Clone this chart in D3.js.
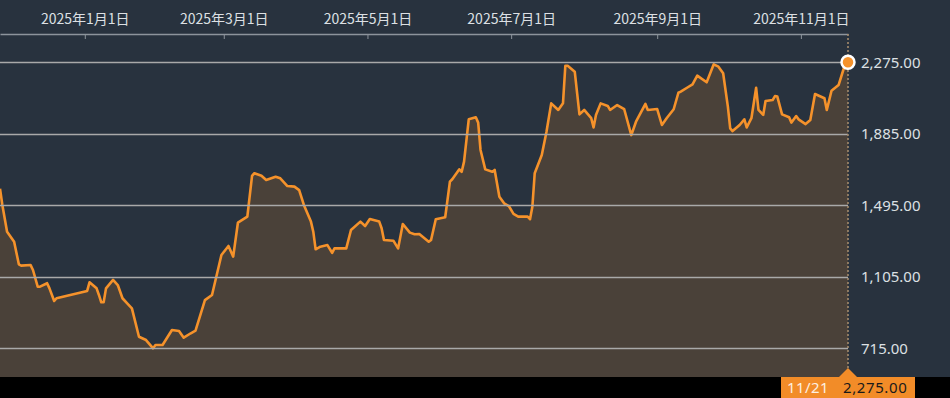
<!DOCTYPE html>
<html>
<head>
<meta charset="utf-8">
<script src="https://cdn.jsdelivr.net/npm/d3@7"></script>
<style>
  body { margin: 0; background: #28323e; overflow: hidden; }
  svg { display: block; }
  .eje text { font-family: "Noto Sans CJK JP", "Noto Sans", sans-serif; font-size: 14px; fill: #dde0e4; }
  .eje .domain, .eje .tick line { stroke: #8d949c; }
</style>
</head>
<body>
<svg class="grafico" width="950" height="398"></svg>
<script>
// precios diarios (lectura aproximada del gráfico)
const fechas = [
  "2024-11-26","2024-11-27","2024-11-29","2024-12-02","2024-12-04","2024-12-05","2024-12-09","2024-12-10",
  "2024-12-12","2024-12-13","2024-12-16","2024-12-17","2024-12-19","2024-12-20","2025-01-02","2025-01-03",
  "2025-01-06","2025-01-07","2025-01-08","2025-01-09","2025-01-10","2025-01-13","2025-01-15","2025-01-17",
  "2025-01-19","2025-01-21","2025-01-24","2025-01-27","2025-01-30","2025-01-31","2025-02-03","2025-02-07",
  "2025-02-10","2025-02-12","2025-02-15","2025-02-17","2025-02-21","2025-02-24","2025-02-28","2025-03-03",
  "2025-03-05","2025-03-07","2025-03-11","2025-03-13","2025-03-14","2025-03-17","2025-03-19","2025-03-23",
  "2025-03-25","2025-03-28","2025-03-31","2025-04-02","2025-04-04","2025-04-07","2025-04-08","2025-04-09",
  "2025-04-11","2025-04-14","2025-04-16","2025-04-17","2025-04-22","2025-04-24","2025-04-28","2025-04-30",
  "2025-05-02","2025-05-06","2025-05-07","2025-05-08","2025-05-12","2025-05-14","2025-05-16","2025-05-19",
  "2025-05-21","2025-05-23","2025-05-27","2025-05-28","2025-05-30","2025-06-03","2025-06-05","2025-06-06",
  "2025-06-09","2025-06-10","2025-06-11","2025-06-13","2025-06-16","2025-06-17","2025-06-18","2025-06-20",
  "2025-06-23","2025-06-24","2025-06-26","2025-06-28","2025-06-30","2025-07-02","2025-07-04","2025-07-08",
  "2025-07-09","2025-07-10","2025-07-11","2025-07-14","2025-07-16","2025-07-18","2025-07-21","2025-07-23",
  "2025-07-24","2025-07-25","2025-07-28","2025-07-30","2025-08-01","2025-08-04","2025-08-05","2025-08-06",
  "2025-08-08","2025-08-11","2025-08-12","2025-08-15","2025-08-18","2025-08-21","2025-08-23","2025-08-27",
  "2025-08-28","2025-09-01","2025-09-03","2025-09-05","2025-09-08","2025-09-10","2025-09-11","2025-09-14",
  "2025-09-16","2025-09-18","2025-09-22","2025-09-25","2025-09-27","2025-09-29","2025-10-01","2025-10-02",
  "2025-10-03","2025-10-06","2025-10-08","2025-10-09","2025-10-11","2025-10-13","2025-10-14","2025-10-16",
  "2025-10-17","2025-10-20","2025-10-21","2025-10-22","2025-10-24","2025-10-27","2025-10-28","2025-10-30",
  "2025-10-31","2025-11-03","2025-11-05","2025-11-07","2025-11-11","2025-11-12","2025-11-14","2025-11-17",
  "2025-11-19","2025-11-20","2025-11-21"
];
const precios = [
  1585,1497,1351,1296,1173,1166,1169,1142,
  1051,1051,1070,1042,973,988,1028,1075,
  1042,1006,966,966,1042,1088,1060,988,
  960,933,778,760,715,733,733,815,
  809,773,797,811,978,1006,1224,1273,
  1215,1400,1433,1655,1670,1656,1633,1651,
  1642,1600,1597,1578,1497,1406,1351,1255,
  1269,1278,1236,1260,1260,1360,1406,1382,
  1420,1406,1370,1306,1302,1260,1393,1346,
  1337,1338,1296,1306,1419,1430,1624,1637,
  1691,1678,1733,1964,1975,1946,1797,1691,
  1678,1688,1542,1506,1491,1448,1433,1433,
  1419,1487,1670,1769,1896,2051,2015,2051,
  2256,2256,2224,1991,2015,1970,1920,1988,
  2051,2037,2015,2042,2019,1878,1951,2048,
  2015,2020,1933,1970,2019,2109,2115,2139,
  2155,2202,2166,2264,2251,2215,2033,1915,
  1900,1933,1964,1920,1970,2136,2015,1988,
  2064,2069,2091,2088,1991,1975,1946,1982,
  1964,1938,1960,2102,2079,2015,2120,2151,
  2233,2270,2275
];
const ticksY = [715, 1105, 1495, 1885, 2275];
const ticksX = ["2025-01-01", "2025-03-01", "2025-05-01", "2025-07-01", "2025-09-01", "2025-11-01"];
const inicio = "2024-11-26", fin = "2025-11-21";

const parse = d3.timeParse("%Y-%m-%d");
const datos = fechas.map((f, i) => ({ fecha: parse(f), valor: precios[i] }));
const ultimo = datos[datos.length - 1];

const width = 950, height = 398;
const arriba = 34, abajo = 377, derecha = 848;

const x = d3.scaleTime().domain([parse(inicio), parse(fin)]).range([0, derecha]);
const y = d3.scaleLinear().domain([715, 2275]).range([348.3, 62.3]);

const svg = d3.select('.grafico');

svg.append('defs').append('clipPath').attr('id', 'zona')
  .append('rect').attr('x', 0).attr('y', arriba).attr('width', derecha).attr('height', abajo - arriba);

// area + linea
const area = d3.area().x(d => x(d.fecha)).y0(abajo).y1(d => y(d.valor));
const linea = d3.line().x(d => x(d.fecha)).y(d => y(d.valor));

const g = svg.append('g').attr('clip-path', 'url(#zona)');
g.append('path').datum(datos).attr('d', area).attr('fill', '#4a4139');

// lineas horizontales
svg.append('g').selectAll('line')
  .data(ticksY)
  .join('line')
  .attr('x1', 0).attr('x2', derecha)
  .attr('y1', d => Math.round(y(d)) + 0.5).attr('y2', d => Math.round(y(d)) + 0.5)
  .attr('stroke', '#a9a9a9').attr('stroke-width', 1.3);

g.append('path').datum(datos).attr('d', linea)
  .attr('fill', 'none').attr('stroke', '#f5922b').attr('stroke-width', 2.6)
  .attr('stroke-linejoin', 'round');

// etiquetas del eje derecho
svg.append('g').selectAll('text')
  .data(ticksY)
  .join('text')
  .attr('x', 861).attr('y', d => y(d)).attr('dy', '0.36em')
  .attr('font-family', '"Noto Sans", sans-serif').attr('font-size', 15)
  .attr('fill', '#dde0e4')
  .text(d => d3.format(',.2f')(d));

// eje superior
svg.append('g')
  .attr('class', 'eje')
  .attr('transform', `translate(0, ${arriba})`)
  .call(d3.axisTop(x)
    .tickValues(ticksX.map(parse))
    .tickFormat(d3.timeFormat('%Y年%-m月%-d日'))
    .tickSizeInner(-5).tickSizeOuter(0).tickPadding(10))
  .call(s => s.select('.domain').attr('stroke-width', 1.5));

// linea vertical punteada en el ultimo dato
svg.append('line')
  .attr('x1', derecha).attr('x2', derecha).attr('y1', arriba).attr('y2', abajo)
  .attr('stroke', '#a38a6c').attr('stroke-width', 1.6).attr('stroke-dasharray', '2,2');

svg.append('circle')
  .attr('cx', x(ultimo.fecha)).attr('cy', y(ultimo.valor)).attr('r', 6.5)
  .attr('fill', '#f5922b').attr('stroke', '#fff').attr('stroke-width', 2.5);

// franja inferior con el valor actual
svg.append('rect').attr('x', 0).attr('y', abajo).attr('width', width).attr('height', height - abajo)
  .attr('fill', '#000');

const cx = x(ultimo.fecha);
svg.append('path')
  .attr('d', `M${cx - 9},${abajo} L${cx},${abajo - 9} L${cx + 9},${abajo} Z`)
  .attr('fill', '#f28c28');
svg.append('rect').attr('x', 781).attr('y', abajo).attr('width', 134).attr('height', height - abajo)
  .attr('fill', '#f28c28');

svg.append('text').attr('x', 787).attr('y', 393)
  .attr('font-family', '"Noto Sans", sans-serif').attr('font-size', 15).attr('fill', '#fdf0e0')
  .attr('letter-spacing', 0.4)
  .text(d3.timeFormat('%m/%d')(ultimo.fecha));
svg.append('text').attr('x', 843).attr('y', 393)
  .attr('font-family', '"Noto Sans", sans-serif').attr('font-size', 15).attr('fill', '#1a1a1a')
  .attr('letter-spacing', 0.6)
  .text(d3.format(',.2f')(ultimo.valor));
</script>
</body>
</html>
